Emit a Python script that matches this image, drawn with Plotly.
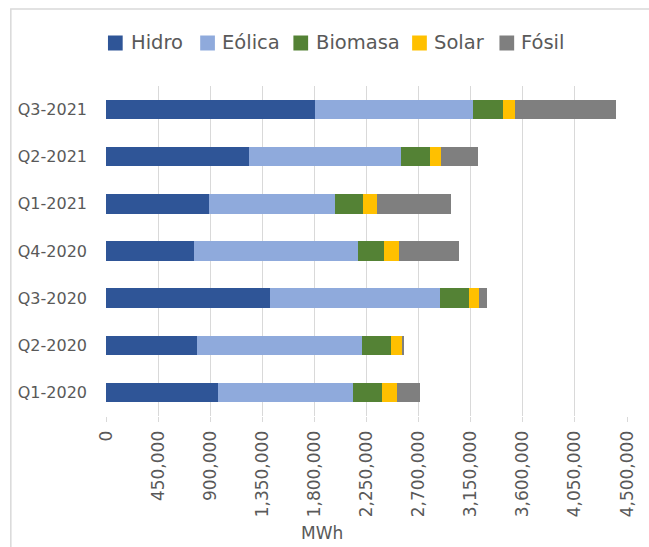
import plotly.graph_objects as go

categories = ["Q1-2020", "Q2-2020", "Q3-2020", "Q4-2020", "Q1-2021", "Q2-2021", "Q3-2021"]
hidro = [967000, 783000, 1420000, 762000, 891000, 1239000, 1804000]
eolica = [1164000, 1429000, 1469000, 1411000, 1085000, 1309000, 1366000]
biomasa = [256000, 252000, 250000, 229000, 245000, 253000, 260000]
solar = [127000, 97000, 83000, 127000, 121000, 94000, 100000]
fosil = [200000, 10000, 70000, 520000, 635000, 320000, 873000]

series_names = ["Hidro", "Eólica", "Biomasa", "Solar", "Fósil"]
series_values = [hidro, eolica, biomasa, solar, fosil]
series_colors = ["#2F5597", "#8FAADC", "#548235", "#FFC000", "#7F7F7F"]

tick_vals = [0, 450000, 900000, 1350000, 1800000, 2250000, 2700000, 3150000, 3600000, 4050000, 4500000]

TEXT = "#595959"
FONT = "DejaVu Sans"

W, H = 649, 547
L, R, T, B = 106, 12, 86, 131
ph = H - T - B
pw = W - L - R


def px_x(px):
    return (px - L) / pw


def px_y(py):
    return 1 + (T - py) / ph


fig = go.Figure()
for name, vals, col in zip(series_names, series_values, series_colors):
    fig.add_trace(go.Bar(
        y=categories, x=vals, name=name, orientation="h",
        marker=dict(color=col, line=dict(width=0)),
        showlegend=False,
    ))

# legend drawn as swatches + text
legend_square_left = [108, 202, 297, 418, 507]
legend_text_left = [129, 222, 318, 438, 527]
legend_cy = 43
sq = 15
shapes = [dict(
    type="rect", xref="paper", yref="paper",
    x0=px_x(9), x1=1.3, y0=-0.6, y1=px_y(9),
    line=dict(color="#d9d9d9", width=1.5), fillcolor="rgba(0,0,0,0)", layer="below",
)]
annotations = [dict(
    text="MWh", xref="paper", yref="paper",
    x=px_x(326), y=px_y(533),
    xanchor="center", yanchor="middle", showarrow=False,
    font=dict(family=FONT, size=17, color=TEXT),
)]
for name, col, sx, tx in zip(series_names, series_colors, legend_square_left, legend_text_left):
    shapes.append(dict(
        type="rect", xref="paper", yref="paper",
        x0=px_x(sx), x1=px_x(sx + sq),
        y0=px_y(legend_cy + sq / 2), y1=px_y(legend_cy - sq / 2),
        line=dict(width=0), fillcolor=col,
    ))
    annotations.append(dict(
        text=name, xref="paper", yref="paper",
        x=px_x(tx), y=px_y(legend_cy), xanchor="left", yanchor="middle",
        showarrow=False, font=dict(family=FONT, size=19.5, color=TEXT),
    ))

fig.update_layout(
    width=W, height=H,
    barmode="stack", bargap=0.59,
    paper_bgcolor="white", plot_bgcolor="white",
    margin=dict(l=L, r=R, t=T, b=B, pad=0),
    font=dict(family=FONT, color=TEXT, size=16),
    showlegend=False,
    xaxis=dict(
        range=[0, 4500000], tickvals=tick_vals, tickformat=",",
        tickangle=-90, showgrid=True, gridcolor="#d9d9d9", gridwidth=1,
        zeroline=False, showline=False,
        ticks="outside", ticklen=5, tickcolor="#d9d9d9",
        tickfont=dict(family=FONT, size=17, color=TEXT),
        ticklabelstandoff=2,
    ),
    yaxis=dict(
        categoryorder="array", categoryarray=categories,
        showgrid=False, zeroline=False, showline=False,
        ticks="", ticklabelstandoff=18,
        tickfont=dict(family=FONT, size=16, color=TEXT),
    ),
    annotations=annotations,
    shapes=shapes,
)

fig.write_html("out.html", config={"displayModeBar": False},
               post_script="document.body.style.margin='0px';")
